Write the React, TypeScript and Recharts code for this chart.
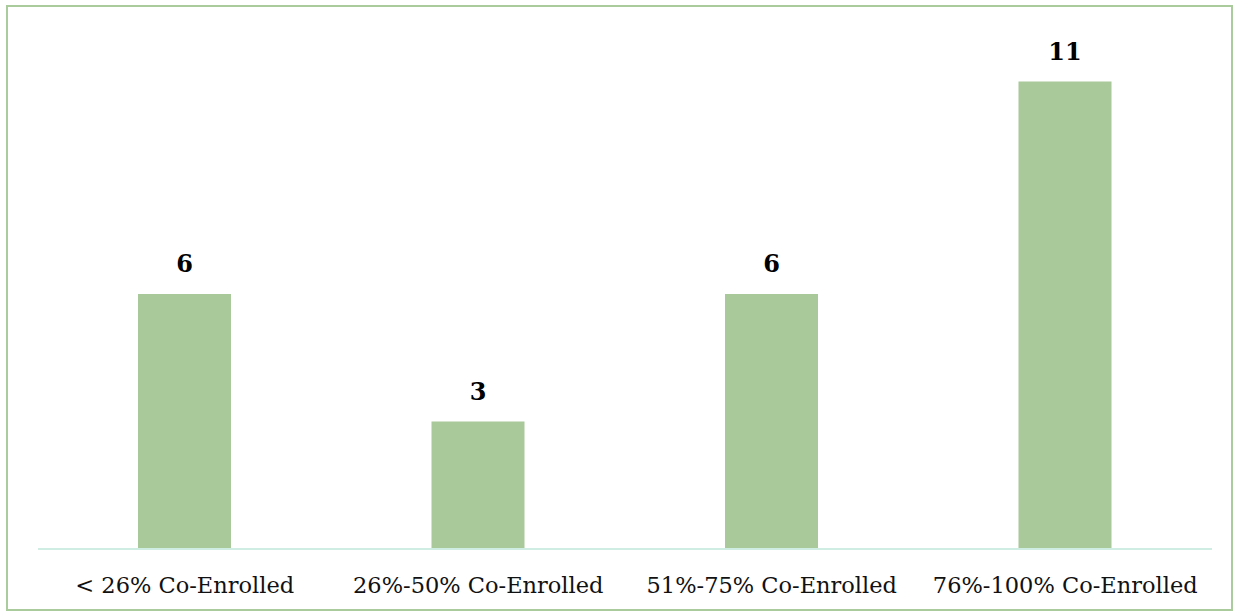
import React from "react";
import { BarChart, Bar, XAxis, YAxis, LabelList } from "recharts";

const categories = [
  "< 26% Co-Enrolled",
  "26%-50% Co-Enrolled",
  "51%-75% Co-Enrolled",
  "76%-100% Co-Enrolled",
];
const counts = [6, 3, 6, 11];

const data = categories.map((c, i) => ({ name: c, value: counts[i] }));

const FONT = "'DejaVu Serif', 'Liberation Serif', serif";

export default function App() {
  return (
    <div style={{ position: "absolute", left: 0, top: 0, width: 1239, height: 616, background: "#fff" }}>
      <div
        style={{
          position: "absolute",
          left: 6,
          top: 5,
          width: 1227,
          height: 606,
          border: "2px solid #aacb9b",
          boxSizing: "border-box",
        }}
      />
      <div style={{ position: "absolute", left: 0, top: 0 }}>
        <BarChart
          width={1239}
          height={616}
          data={data}
          margin={{ top: 39, right: 27, bottom: 37, left: 38 }}
        >
          <YAxis hide domain={[0, 12]} />
          <XAxis
            dataKey="name"
            axisLine={{ stroke: "#d0ede3", strokeWidth: 2 }}
            tickLine={false}
            tickMargin={22}
            tick={{ fontSize: 22.5, fontFamily: FONT, fill: "#111" }}
            interval={0}
          />
          <Bar dataKey="value" fill="#a9c99a" barSize={93} isAnimationActive={false}>
            <LabelList
              dataKey="value"
              position="top"
              offset={22}
              style={{ fontSize: 24, fontWeight: "bold", fontFamily: FONT, fill: "#000" }}
            />
          </Bar>
        </BarChart>
      </div>
    </div>
  );
}
